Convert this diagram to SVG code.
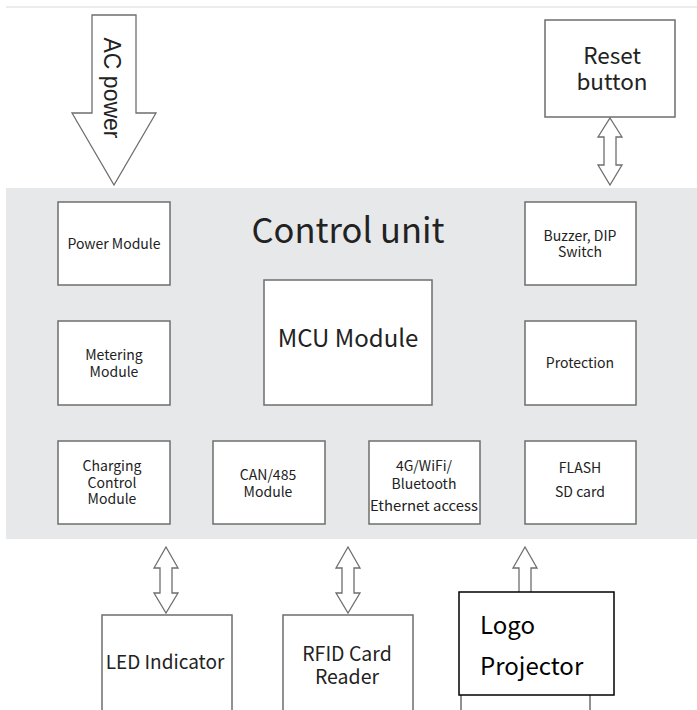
<svg xmlns="http://www.w3.org/2000/svg" width="697" height="710" viewBox="0 0 697 710">
<style>
.box{fill:#fff;stroke:#6e6e6e;stroke-width:1.5}
.arr{fill:#fff;stroke:#6e6e6e;stroke-width:1.3;stroke-linejoin:miter}
.t{font-family:"Noto Sans CJK SC","Noto Sans",sans-serif;fill:#222;text-anchor:middle}
.s{font-size:14px}
</style>
<rect x="0" y="0" width="697" height="710" fill="#fff"/>
<rect x="6" y="6" width="691" height="2" fill="#ececec"/>
<rect id="control-unit" x="6" y="188" width="691" height="351" fill="#e7e8ea"/>
<text class="t" x="348" y="243" font-size="34.5">Control unit</text>

<g id="connectors">
<polygon class="arr" points="92,15 136,15 136,113 156,113 114,185 72,113 92,113"/>
<polygon class="arr" points="610,118 622,137 616,137 616,165 622,165 610,185 598,165 604,165 604,137 598,137"/>
<polygon class="arr" points="166,547 178,568 172,568 172,593 178,593 166,613 154,593 160,593 160,568 154,568"/>
<polygon class="arr" points="348,547 360,568 354,568 354,593 360,593 348,613 336,593 342,593 342,568 336,568"/>
<polygon class="arr" points="525,547 537,568 531,568 531,600 519,600 519,568 513,568"/>
</g>
<text transform="translate(104,88) rotate(90)" style="font-family:'Liberation Sans',Arial,sans-serif;fill:#222;text-anchor:middle" font-size="23">AC power</text>

<g id="reset-button"><rect class="box" x="545" y="20" width="130" height="97"/>
<text class="t" x="612" y="64" font-size="22.5">Reset</text><text class="t" x="612" y="90" font-size="22.5">button</text></g>

<g id="power-module"><rect class="box" x="58" y="202" width="112" height="83"/>
<text class="t s" x="114" y="249">Power Module</text></g>
<g id="buzzer"><rect class="box" x="525" y="202" width="111" height="83"/>
<text class="t s" x="580" y="241">Buzzer, DIP</text><text class="t s" x="580" y="257">Switch</text></g>
<g id="metering"><rect class="box" x="58" y="321" width="112" height="84"/>
<text class="t s" x="114" y="360">Metering</text><text class="t s" x="114" y="377">Module</text></g>
<g id="mcu"><rect class="box" x="264" y="280" width="168" height="125"/>
<text class="t" x="348" y="347" font-size="24">MCU Module</text></g>
<g id="protection"><rect class="box" x="525" y="321" width="111" height="84"/>
<text class="t s" x="580" y="368">Protection</text></g>
<g id="charging"><rect class="box" x="58" y="441" width="112" height="83"/>
<text class="t s" x="112" y="471">Charging</text><text class="t s" x="112" y="488">Control</text><text class="t s" x="112" y="504">Module</text></g>
<g id="can485"><rect class="box" x="213" y="441" width="112" height="83"/>
<text class="t s" x="268" y="480">CAN/485</text><text class="t s" x="268" y="497">Module</text></g>
<g id="wireless"><rect class="box" x="369" y="441" width="111" height="83"/>
<text class="t s" x="424" y="471">4G/WiFi/</text><text class="t s" x="424" y="489">Bluetooth</text><text class="t s" x="424" y="511" textLength="108" lengthAdjust="spacingAndGlyphs">Ethernet access</text></g>
<g id="flash"><rect class="box" x="525" y="441" width="111" height="83"/>
<text class="t s" x="580" y="473">FLASH</text><text class="t s" x="580" y="497">SD card</text></g>

<g id="led"><rect class="box" x="102" y="615" width="130" height="110"/>
<text class="t" x="165" y="669" font-size="19">LED Indicator</text></g>
<g id="rfid"><rect class="box" x="283" y="615" width="130" height="110"/>
<text class="t" x="347" y="661" font-size="19.5">RFID Card</text><text class="t" x="347" y="684" font-size="19.5">Reader</text></g>
<g id="hidden-box"><rect class="box" x="461" y="615" width="129" height="110"/></g>
<g id="logo-projector"><rect x="459" y="592" width="155" height="103" fill="#fff" stroke="#000" stroke-width="1.5"/>
<text class="t" x="480" y="634" font-size="24" style="text-anchor:start;fill:#000">Logo</text>
<text class="t" x="480" y="675" font-size="24" style="text-anchor:start;fill:#000">Projector</text></g>
</svg>
